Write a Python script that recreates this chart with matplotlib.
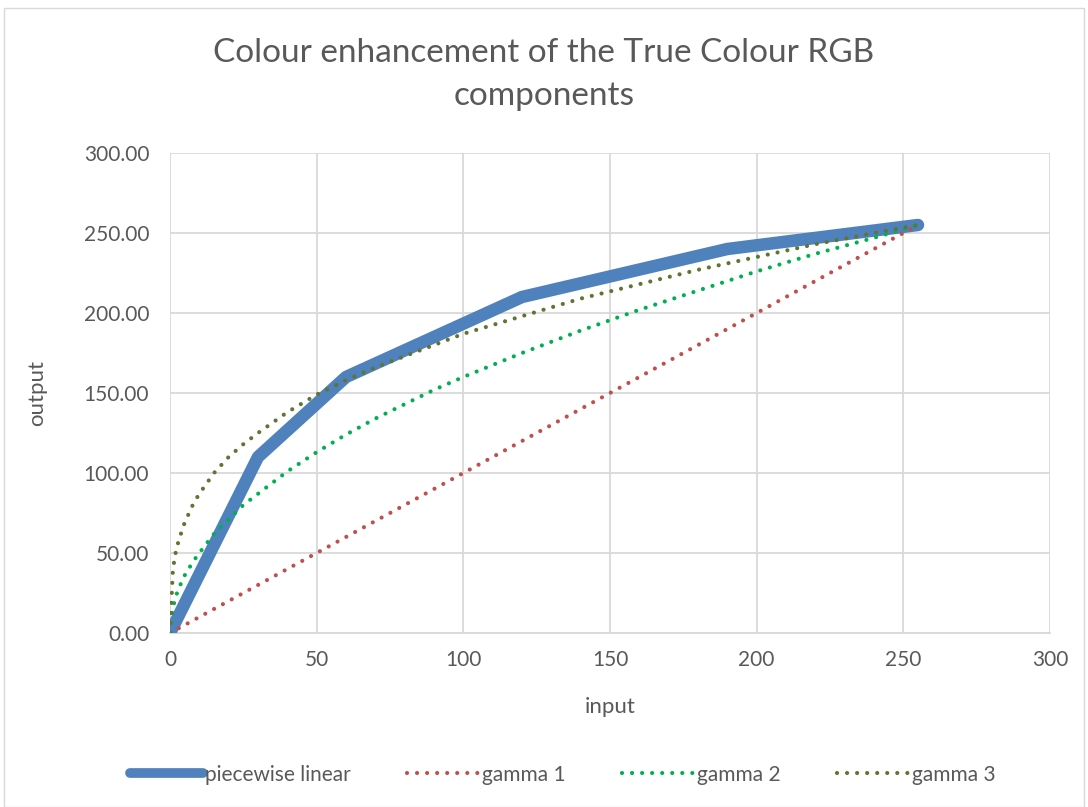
import matplotlib.pyplot as plt
from matplotlib.patches import Rectangle

# piecewise linear mapping
pw_x = [0, 30, 60, 120, 190, 255]
pw_y = [0, 110, 160, 210, 240, 255]

# gamma curves, values
g_x = [0, 1, 2, 3, 5, 8, 10, 15, 20, 25, 30, 40, 50, 60, 70, 80, 90, 100,
       120, 140, 160, 180, 200, 220, 240, 255]
gamma1 = [0, 1, 2, 3, 5, 8, 10, 15, 20, 25, 30, 40, 50, 60, 70, 80, 90, 100,
          120, 140, 160, 180, 200, 220, 240, 255]
gamma2 = [0, 16, 23, 28, 36, 45, 50, 62, 71, 80, 87, 101, 113, 124, 134, 143,
          152, 160, 175, 189, 202, 214, 226, 237, 247, 255]
gamma3 = [0, 40, 51, 58, 69, 81, 87, 100, 110, 118, 125, 138, 149, 158, 166,
          173, 180, 187, 198, 209, 218, 227, 235, 243, 250, 255]

plt.rcParams['font.family'] = ['Lato', 'DejaVu Sans']
txt = '#595959'

fig = plt.figure(figsize=(10.88, 8.07), dpi=100)
fig.patches.append(Rectangle((4 / 1088, 0), 1080 / 1088, 799 / 807, transform=fig.transFigure,
                             fill=False, edgecolor='#D9D9D9', lw=1))
ax = fig.add_axes([170 / 1088, 1 - 633 / 807, 880 / 1088, 480 / 807])

dots = (0, (0.01, 2.4))
ax.plot(pw_x, pw_y, color='#4F81BD', lw=9, solid_capstyle='round',
        solid_joinstyle='round', label='piecewise linear', zorder=3)
ax.plot(g_x, gamma1, color='#C0504D', lw=3, ls=dots, dash_capstyle='round',
        label='gamma 1', zorder=4)
ax.plot(g_x, gamma2, color='#00B050', lw=3, ls=dots, dash_capstyle='round',
        label='gamma 2', zorder=4)
ax.plot(g_x, gamma3, color='#5F7530', lw=3, ls=dots, dash_capstyle='round',
        label='gamma 3', zorder=4)

ax.set_xlim(0, 300)
ax.set_ylim(0, 300)
ax.set_xticks(range(0, 301, 50))
ax.set_yticks(range(0, 301, 50))
ax.set_yticklabels([f'{v:.2f}' for v in range(0, 301, 50)])
ax.grid(True, color='#D9D9D9', lw=1.3)
ax.set_axisbelow(True)
for s in ['top', 'right', 'left']:
    ax.spines[s].set_visible(False)
ax.spines['bottom'].set_color('#D9D9D9')
ax.spines['bottom'].set_linewidth(1.3)
ax.tick_params(length=0, labelsize=15, colors=txt)
ax.tick_params(axis='y', pad=15)
ax.tick_params(axis='x', pad=12)

ax.set_xlabel('input', fontsize=16, color=txt, labelpad=20)
ax.set_ylabel('output', fontsize=16, color=txt, labelpad=26)
fig.suptitle('Colour enhancement of the True Colour RGB\ncomponents', fontsize=24,
             color=txt, y=1 - 38 / 807, va='top', linespacing=1.55)

leg = fig.legend(loc='center', bbox_to_anchor=(0.517, 0.04), ncol=4, frameon=False,
                 fontsize=15, labelcolor=txt, handlelength=3.5, handletextpad=0.1,
                 columnspacing=2.7)
leg.get_lines()[0].set_linewidth(7)

fig.savefig('out.png', dpi=100)
